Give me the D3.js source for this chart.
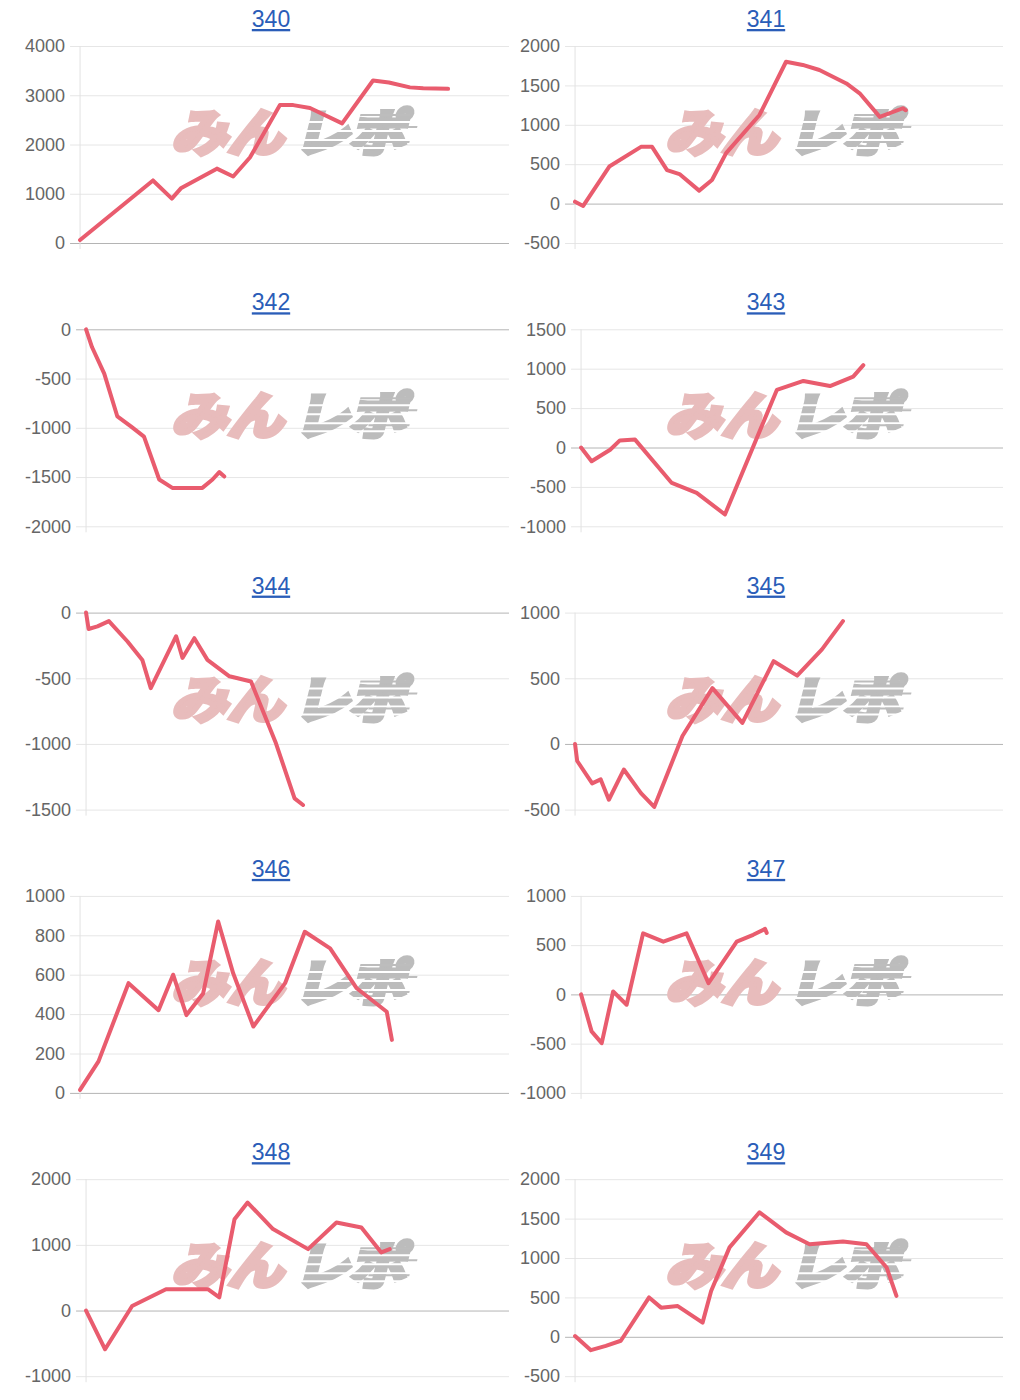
<!DOCTYPE html>
<html><head><meta charset="utf-8">
<script src="https://cdn.jsdelivr.net/npm/d3@7"></script>
<style>
html,body{margin:0;padding:0;background:#fff;}
svg{display:block;}
</style></head>
<body>
<svg id="chart" width="1020" height="1400"></svg>
<script>
// ---- data ----
const titles = ["340","341","342","343","344","345","346","347","348","349"];

const ticks340 = [0,1000,2000,3000,4000];
const x340 = [0,17.0,21.4,23.5,31.9,35.7,39.6,46.6,49.7,53.6,61.1,68.3,72,76.9,80,85.8];
const y340 = [60,1270,900,1110,1510,1350,1735,2800,2800,2740,2430,3300,3260,3160,3140,3130];

const ticks341 = [-500,0,500,1000,1500,2000];
const x341 = [0,1.9,8,15.4,18,21.5,24.4,29,32,35.3,43.1,49.3,53.2,57.1,63.4,66.5,71.2,76.6,77.3];
const y341 = [24,-30,470,720,720,425,375,165,300,640,1125,1800,1760,1695,1525,1400,1100,1210,1185];

const ticks342 = [-2000,-1500,-1000,-500,0];
const x342 = [0,1.4,4.3,7.4,10.6,13.7,17.3,20.4,27.5,29.9,31.5,32.7];
const y342 = [0,-180,-450,-885,-985,-1090,-1525,-1610,-1610,-1525,-1450,-1495];

const ticks343 = [-1000,-500,0,500,1000,1500];
const x343 = [0,2.5,6.9,9.2,12.8,21.5,27.4,34.1,46.4,52.7,59,64.5,66.9];
const y343 = [0,-175,-28,90,100,-450,-575,-850,730,845,780,900,1045];

const ticks344 = [-1500,-1000,-500,0];
const x344 = [0,0.6,2.7,5.4,9.8,13.3,15.3,21.3,22.8,25.6,28.7,33.9,39,44.9,49.3,51.3];
const y344 = [0,-125,-105,-65,-220,-360,-575,-180,-345,-195,-360,-485,-525,-995,-1415,-1465];

const ticks345 = [-500,0,500,1000];
const x345 = [0,0.5,4.0,6.0,7.9,11.4,15.4,18.5,25.1,32.1,39.1,46.4,51.9,57.7,62.6];
const y345 = [0,-130,-300,-270,-425,-195,-375,-480,60,425,160,630,520,720,935];

const ticks346 = [0,200,400,600,800,1000];
const x346 = [0,4.3,11.3,18.3,21.7,24.8,28.7,32.2,35.7,40.4,47.8,52.4,58.3,64.5,71.5,72.7];
const y346 = [15,160,557,420,600,395,505,870,607,337,557,818,734,531,412,269];

const ticks347 = [-1000,-500,0,500,1000];
const x347 = [0,2.5,4.9,7.6,10.8,14.7,19.5,25,30.2,36.9,40.8,43.6,44];
const y347 = [0,-375,-495,30,-105,620,535,620,115,535,605,665,625];

const ticks348 = [-1000,0,1000,2000];
const x348 = [0,4.5,10.9,18.9,28.8,31.5,35.1,38.2,44.2,52.5,59.2,65.1,69.8,71.8];
const y348 = [0,-590,70,325,325,200,1390,1645,1240,935,1340,1265,885,935];

const ticks349 = [-500,0,500,1000,1500,2000];
const x349 = [0,3.7,7.2,10.7,17.3,20.1,24,29.8,31.8,36.1,43.1,49.3,54.8,62.6,68.1,72.8,75.1];
const y349 = [10,-170,-115,-50,500,370,390,180,580,1135,1580,1325,1175,1210,1175,880,520];

const xDomain = [0, 100];
const watermarkPink = "みん";
const watermarkGray = "レポ";

const charts = [
  {title: titles[0], ticks: ticks340, xs: x340, ys: y340},
  {title: titles[1], ticks: ticks341, xs: x341, ys: y341},
  {title: titles[2], ticks: ticks342, xs: x342, ys: y342},
  {title: titles[3], ticks: ticks343, xs: x343, ys: y343},
  {title: titles[4], ticks: ticks344, xs: x344, ys: y344},
  {title: titles[5], ticks: ticks345, xs: x345, ys: y345},
  {title: titles[6], ticks: ticks346, xs: x346, ys: y346},
  {title: titles[7], ticks: ticks347, xs: x347, ys: y347},
  {title: titles[8], ticks: ticks348, xs: x348, ys: y348},
  {title: titles[9], ticks: ticks349, xs: x349, ys: y349}
];

// ---- layout ----
const svg = d3.select("#chart");
const FONT = "Helvetica, Arial, 'Liberation Sans', sans-serif";
const colLabelLeft = [25, 520];
const colPlotRight = [509, 1003];
const colTitleX = [271, 766];
const colLogoX = [296, 790];
const rowTop0 = 46, rowStep = 283.3, plotH = 197;
const lineColor = "#e95c6e";

charts.forEach((c, i) => {
  const col = i % 2, row = Math.floor(i / 2);
  const top = rowTop0 + row * rowStep;
  const bottom = top + plotH;
  const g = svg.append("g");

  // title (link style)
  g.append("text")
    .attr("x", colTitleX[col]).attr("y", top - 19)
    .attr("text-anchor", "middle")
    .attr("font-family", FONT).attr("font-size", 23)
    .attr("fill", "#2a5db8")
    .attr("text-decoration", "underline")
    .text(c.title);

  // measure tick label widths
  const meas = g.append("g").attr("font-family", FONT).attr("font-size", 18);
  let maxW = 0;
  c.ticks.forEach(t => {
    const tt = meas.append("text").text(String(t));
    maxW = Math.max(maxW, tt.node().getComputedTextLength());
  });
  meas.remove();
  const axisX = colLabelLeft[col] + maxW + 15;
  const right = colPlotRight[col];

  const y = d3.scaleLinear().domain(d3.extent(c.ticks)).range([bottom, top]);
  const x = d3.scaleLinear().domain(xDomain).range([axisX, right]);

  // grid + tick labels via d3 axis
  const ax = d3.axisLeft(y).tickValues(c.ticks).tickSize(-(right - axisX)).tickPadding(15)
    .tickFormat(d => String(d));
  const axG = g.append("g").attr("transform", `translate(${axisX},0)`).call(ax);
  axG.select(".domain").remove();
  axG.selectAll(".tick line")
    .attr("x1", -10)
    .attr("stroke", d => d === 0 ? "#b4b4b4" : "#e6e6e6")
    .attr("stroke-width", 1);
  axG.selectAll(".tick text")
    .attr("font-family", FONT).attr("font-size", 18).attr("fill", "#666");

  // y axis line
  g.append("line")
    .attr("x1", axisX).attr("x2", axisX)
    .attr("y1", top).attr("y2", bottom + 6)
    .attr("stroke", "#e2e2e2").attr("stroke-width", 1);

  // watermark
  const cy = top + 86;
  const wm = g.append("g").attr("transform", `translate(${colLogoX[col]},${cy}) skewX(-14)`);
  wm.append("text")
    .attr("x", -120).attr("y", 19)
    .attr("font-family", "'Noto Sans CJK JP', sans-serif").attr("font-weight", "bold")
    .attr("font-size", 50)
    .attr("textLength", 112).attr("lengthAdjust", "spacingAndGlyphs")
    .attr("fill", "#e8bcbc").attr("stroke", "#e8bcbc").attr("stroke-width", 5)
    .attr("stroke-linejoin", "miter")
    .text(watermarkPink);
  wm.append("text")
    .attr("x", 2).attr("y", 19)
    .attr("font-family", "'Noto Sans CJK JP', sans-serif").attr("font-weight", "bold")
    .attr("font-size", 50)
    .attr("textLength", 112).attr("lengthAdjust", "spacingAndGlyphs")
    .attr("fill", "#bcbcbc").attr("stroke", "#bcbcbc").attr("stroke-width", 5)
    .attr("stroke-linejoin", "miter")
    .text(watermarkGray);
  [-11, -2, 7, 15].forEach(dy => {
    wm.append("rect").attr("x", 0).attr("y", dy).attr("width", 120).attr("height", 2).attr("fill", "#fff");
  });
  [[-18, 60, 110], [-6, 90, 120], [9, 75, 116]].forEach(([dy, x0, x1]) => {
    wm.append("rect").attr("x", x0).attr("y", dy).attr("width", x1 - x0).attr("height", 2).attr("fill", "#bdbdbd");
  });

  // series line
  const pts = c.xs.map((v, k) => [v, c.ys[k]]);
  const line = d3.line().x(d => x(d[0])).y(d => y(d[1]));
  g.append("path")
    .datum(pts)
    .attr("d", line)
    .attr("fill", "none")
    .attr("stroke", lineColor)
    .attr("stroke-width", 4)
    .attr("stroke-linejoin", "round")
    .attr("stroke-linecap", "round");
});
</script>
</body></html>
